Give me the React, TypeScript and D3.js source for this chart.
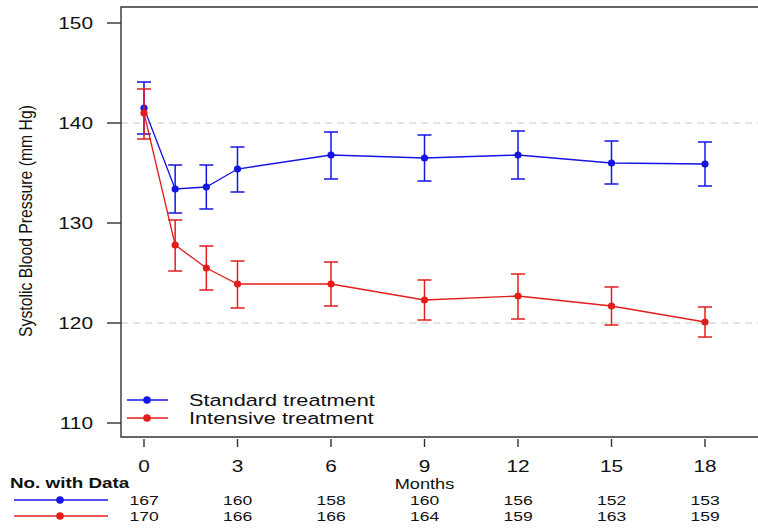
import React from "react";
import * as d3 from "d3";

// months at which blood pressure was recorded
const months = [0, 1, 2, 3, 6, 9, 12, 15, 18];
const xTicks = [0, 3, 6, 9, 12, 15, 18];
const yTicks = [110, 120, 130, 140, 150];
const gridValues = [120, 140];

const standardMean = [141.5, 133.4, 133.6, 135.4, 136.8, 136.5, 136.8, 136.0, 135.9];
const standardLow = [138.9, 131.0, 131.4, 133.1, 134.4, 134.2, 134.4, 133.9, 133.7];
const standardHigh = [144.1, 135.8, 135.8, 137.6, 139.1, 138.8, 139.2, 138.2, 138.1];

const intensiveMean = [141.0, 127.8, 125.5, 123.9, 123.9, 122.3, 122.7, 121.7, 120.1];
const intensiveLow = [138.4, 125.2, 123.3, 121.5, 121.7, 120.3, 120.4, 119.8, 118.6];
const intensiveHigh = [143.4, 130.3, 127.7, 126.2, 126.1, 124.3, 124.9, 123.6, 121.6];

const standardCounts = [167, 160, 158, 160, 156, 152, 153];
const intensiveCounts = [170, 166, 166, 164, 159, 163, 159];

const seriesNames = ["Standard treatment", "Intensive treatment"];
const BLUE = "#1414e6";
const RED = "#e31c1c";

const W = 758;
const H = 529;
const boxLeft = 121;
const boxTop = 7;
const boxBottom = 437;
const SX = 1.3; // the original picture is stretched sideways

// text drawn with the same sideways stretch
function T(props: any) {
  const { x, y, children, ...rest } = props;
  return (
    <text transform={`translate(${x},${y}) scale(${SX},1)`} dy="0.36em" fill="#111" {...rest}>
      {children}
    </text>
  );
}

export default function App() {
  const x = d3.scaleLinear().domain([0, 18]).range([144, 705]);
  const y = d3.scaleLinear().domain([110, 150]).range([423, 23]);

  const series = [
    { name: seriesNames[0], color: BLUE, mean: standardMean, lo: standardLow, hi: standardHigh },
    { name: seriesNames[1], color: RED, mean: intensiveMean, lo: intensiveLow, hi: intensiveHigh },
  ];

  const line = d3
    .line<number>()
    .x((_, i) => x(months[i]))
    .y((d) => y(d));

  const cap = 7;

  return (
    <svg width={W} height={H} style={{ position: "absolute", left: 0, top: 0 }} fontFamily="Liberation Sans, Arial, sans-serif">
      <rect width={W} height={H} fill="#fff" />

      {/* dashed reference lines */}
      {gridValues.map((g) => (
        <line key={g} x1={boxLeft} x2={W} y1={y(g)} y2={y(g)} stroke="#c8c8c8" strokeWidth={1.2} strokeDasharray="7,5" />
      ))}

      {/* open box: top, left, bottom */}
      <path d={`M${W},${boxTop}H${boxLeft}V${boxBottom}H${W}`} fill="none" stroke="#333" strokeWidth={1.4} />

      {/* y axis */}
      {yTicks.map((t) => (
        <g key={t}>
          <line x1={107} x2={boxLeft} y1={y(t)} y2={y(t)} stroke="#333" strokeWidth={1.4} />
          <T x={93} y={y(t)} textAnchor="end" fontSize={16}>
            {t}
          </T>
        </g>
      ))}
      <text
        transform="translate(32,221) scale(1.3,1) rotate(-90)"
        textAnchor="middle"
        fontSize={14.5}
        textLength={232}
        lengthAdjust="spacingAndGlyphs"
        fill="#111"
      >
        Systolic Blood Pressure (mm Hg)
      </text>

      {/* x axis */}
      {xTicks.map((t) => (
        <g key={t}>
          <line x1={x(t)} x2={x(t)} y1={439} y2={447} stroke="#333" strokeWidth={1.4} />
          <T x={x(t)} y={466} textAnchor="middle" fontSize={16}>
            {t}
          </T>
        </g>
      ))}
      <T x={x(9)} y={484} textAnchor="middle" fontSize={14}>
        Months
      </T>

      {/* series */}
      {series.map((s) => (
        <g key={s.name}>
          <path d={line(s.mean) || ""} fill="none" stroke={s.color} strokeWidth={1.3} />
          {s.mean.map((m, i) => (
            <g key={i} stroke={s.color} strokeWidth={1.5}>
              <line x1={x(months[i])} x2={x(months[i])} y1={y(s.lo[i])} y2={y(s.hi[i])} />
              <line x1={x(months[i]) - cap} x2={x(months[i]) + cap} y1={y(s.lo[i])} y2={y(s.lo[i])} />
              <line x1={x(months[i]) - cap} x2={x(months[i]) + cap} y1={y(s.hi[i])} y2={y(s.hi[i])} />
              <circle cx={x(months[i])} cy={y(m)} r={3.6} fill={s.color} stroke="none" />
            </g>
          ))}
        </g>
      ))}

      {/* legend */}
      {series.map((s, i) => (
        <g key={s.name}>
          <line x1={127} x2={168} y1={400 + i * 18} y2={400 + i * 18} stroke={s.color} strokeWidth={1.3} />
          <circle cx={147} cy={400 + i * 18} r={3.8} fill={s.color} />
          <T x={189} y={400 + i * 18} fontSize={16.7}>
            {s.name}
          </T>
        </g>
      ))}

      {/* number with data table */}
      <T x={10} y={483} fontSize={14.5} fontWeight="bold">
        No. with Data
      </T>
      {[
        { color: BLUE, counts: standardCounts, yy: 500 },
        { color: RED, counts: intensiveCounts, yy: 516 },
      ].map((r, j) => (
        <g key={j}>
          <line x1={14} x2={108} y1={r.yy} y2={r.yy} stroke={r.color} strokeWidth={1.3} />
          <circle cx={60} cy={r.yy} r={3.8} fill={r.color} />
          {r.counts.map((c, i) => (
            <T key={i} x={x(xTicks[i])} y={r.yy} textAnchor="middle" fontSize={13.5}>
              {c}
            </T>
          ))}
        </g>
      ))}
    </svg>
  );
}
